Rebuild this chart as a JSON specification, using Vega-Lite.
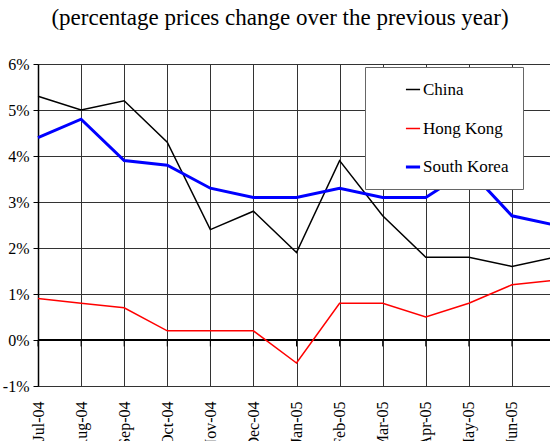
{
  "$schema": "https://vega.github.io/schema/vega-lite/v6.json",
  "autosize": "none",
  "width": 512,
  "height": 322,
  "padding": {"left": 38, "top": 64, "right": 0, "bottom": 55},
  "background": "white",
  "title": {
    "text": "(percentage prices change over the previous year)",
    "font": "'Liberation Serif'",
    "fontSize": 23,
    "fontWeight": "normal",
    "color": "black",
    "offset": 26,
    "dx": -14
  },
  "config": {
    "view": {"stroke": null},
    "axis": {"labelFont": "\"Liberation Serif\", serif", "labelColor": "black", "labelFontSize": 16, "gridColor": "#333333", "gridWidth": 1, "gridOpacity": 1},
    "legend": {"labelFont": "Liberation Serif"}
  },
  "data": {
    "values": [
      {"month": "Jul-04", "series": "China", "value": 5.3},
      {"month": "Aug-04", "series": "China", "value": 5.0},
      {"month": "Sep-04", "series": "China", "value": 5.2},
      {"month": "Oct-04", "series": "China", "value": 4.3},
      {"month": "Nov-04", "series": "China", "value": 2.4},
      {"month": "Dec-04", "series": "China", "value": 2.8},
      {"month": "Jan-05", "series": "China", "value": 1.9},
      {"month": "Feb-05", "series": "China", "value": 3.9},
      {"month": "Mar-05", "series": "China", "value": 2.7},
      {"month": "Apr-05", "series": "China", "value": 1.8},
      {"month": "May-05", "series": "China", "value": 1.8},
      {"month": "Jun-05", "series": "China", "value": 1.6},
      {"month": "Jul-05", "series": "China", "value": 1.8},
      {"month": "Jul-04", "series": "Hong Kong", "value": 0.9},
      {"month": "Aug-04", "series": "Hong Kong", "value": 0.8},
      {"month": "Sep-04", "series": "Hong Kong", "value": 0.7},
      {"month": "Oct-04", "series": "Hong Kong", "value": 0.2},
      {"month": "Nov-04", "series": "Hong Kong", "value": 0.2},
      {"month": "Dec-04", "series": "Hong Kong", "value": 0.2},
      {"month": "Jan-05", "series": "Hong Kong", "value": -0.5},
      {"month": "Feb-05", "series": "Hong Kong", "value": 0.8},
      {"month": "Mar-05", "series": "Hong Kong", "value": 0.8},
      {"month": "Apr-05", "series": "Hong Kong", "value": 0.5},
      {"month": "May-05", "series": "Hong Kong", "value": 0.8},
      {"month": "Jun-05", "series": "Hong Kong", "value": 1.2},
      {"month": "Jul-05", "series": "Hong Kong", "value": 1.3},
      {"month": "Jul-04", "series": "South Korea", "value": 4.4},
      {"month": "Aug-04", "series": "South Korea", "value": 4.8},
      {"month": "Sep-04", "series": "South Korea", "value": 3.9},
      {"month": "Oct-04", "series": "South Korea", "value": 3.8},
      {"month": "Nov-04", "series": "South Korea", "value": 3.3},
      {"month": "Dec-04", "series": "South Korea", "value": 3.1},
      {"month": "Jan-05", "series": "South Korea", "value": 3.1},
      {"month": "Feb-05", "series": "South Korea", "value": 3.3},
      {"month": "Mar-05", "series": "South Korea", "value": 3.1},
      {"month": "Apr-05", "series": "South Korea", "value": 3.1},
      {"month": "May-05", "series": "South Korea", "value": 3.7},
      {"month": "Jun-05", "series": "South Korea", "value": 2.7},
      {"month": "Jul-05", "series": "South Korea", "value": 2.5}
    ]
  },
  "encoding": {
    "x": {
      "field": "month",
      "type": "ordinal",
      "sort": null,
      "scale": {"type": "point", "padding": 0, "range": [0, 517]},
      "axis": {
        "title": null,
        "grid": true,
        "ticks": false,
        "domain": false,
        "labelAngle": 270,
        "labelAlign": "right",
        "labelBaseline": "middle",
        "labelPadding": 15,
        "labelOverlap": false,
        "labelExpr": "datum.label == 'Jul-05' ? '' : datum.label"
      }
    }
  },
  "layer": [
    {
      "mark": {"type": "rule", "color": "black", "strokeWidth": 1},
      "transform": [{"filter": "datum.series === 'China'"}],
      "encoding": {
        "y": {"datum": 0, "type": "quantitative", "scale": {"domain": [-1, 6]}},
        "y2": {"datum": -0.14}
      }
    },
    {
      "mark": {"type": "rule", "color": "black", "strokeWidth": 2},
      "encoding": {
        "x": null,
        "y": {"datum": 0, "type": "quantitative"}
      }
    },
    {
      "mark": {"type": "line", "strokeJoin": "miter"},
      "encoding": {
        "y": {
          "field": "value",
          "type": "quantitative",
          "scale": {"domain": [-1, 6], "nice": false},
          "axis": {
            "title": null,
            "values": [-1, 0, 1, 2, 3, 4, 5, 6],
            "labelExpr": "datum.value + '%'",
            "grid": true,
            "tickSize": 5,
            "tickColor": "black",
            "domainColor": "black",
            "domainWidth": 1.5,
            "labelPadding": 4
          }
        },
        "color": {
          "field": "series",
          "type": "nominal",
          "scale": {"domain": ["China", "Hong Kong", "South Korea"], "range": ["#000000", "#ff0000", "#0000ff"]},
          "legend": {
            "title": null,
            "orient": "none",
            "legendX": 327,
            "legendY": 3,
            "fillColor": "white",
            "strokeColor": "#666666",
            "padding": 14,
            "symbolType": "stroke",
            "symbolSize": 200,
            "symbolOffset": 25,
            "labelFontSize": 17,
            "labelColor": "black",
            "rowPadding": 21,
            "labelOffset": 1,
            "labelExpr": "datum.label + '       '"
          }
        },
        "strokeWidth": {
          "field": "series",
          "type": "ordinal",
          "scale": {"type": "ordinal", "domain": ["China", "Hong Kong", "South Korea"], "range": [1.5, 1.5, 3]},
          "legend": null
        }
      }
    }
  ]
}
